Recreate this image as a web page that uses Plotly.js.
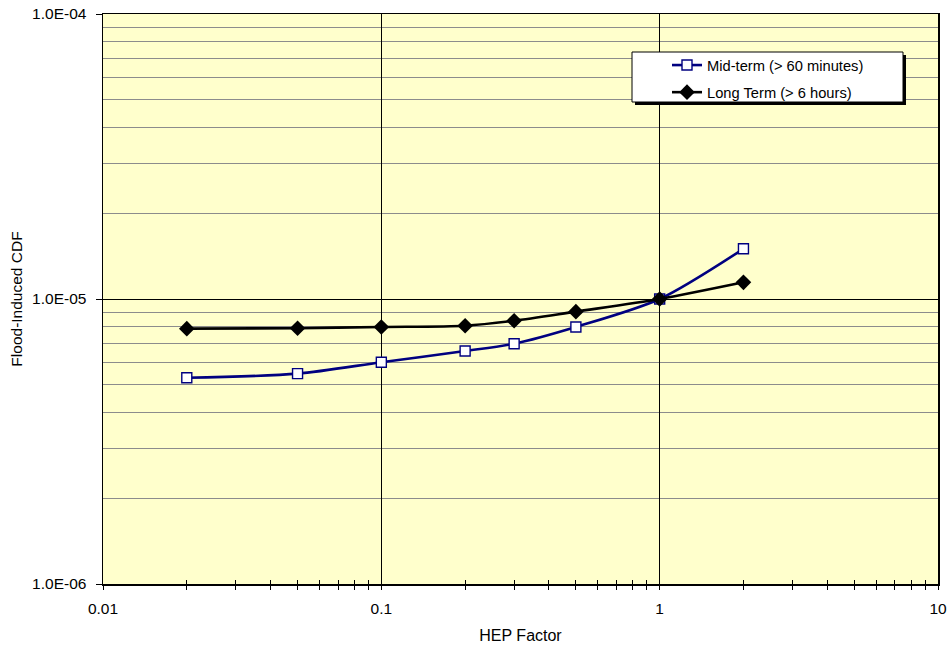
<!DOCTYPE html>
<html>
<head>
<meta charset="utf-8">
<script src="https://cdn.plot.ly/plotly-3.0.1.min.js"></script>
<style>html,body{margin:0;padding:0;background:#fff}#chart{width:948px;height:645px}</style>
</head>
<body>
<div id="chart"></div>
<script>
const hepFactor = [0.02, 0.05, 0.1, 0.2, 0.3, 0.5, 1, 2];
const midTermCDF = [5.29e-6, 5.47e-6, 6.0e-6, 6.57e-6, 6.97e-6, 7.98e-6, 1.0e-5, 1.5e-5];
const longTermCDF = [7.87e-6, 7.9e-6, 7.98e-6, 8.06e-6, 8.39e-6, 9.03e-6, 1.0e-5, 1.144e-5];
const seriesNames = ['Mid-term (> 60 minutes)', 'Long Term (> 6 hours)'];
const yTickVals = [1e-6, 1e-5, 1e-4];
const yTickText = ['1.0E-06', '1.0E-05', '1.0E-04'];
const xTickVals = [0.01, 0.1, 1, 10];
const xTickText = ['0.01', '0.1', '1', '10'];

const yMinor = [];
const xMinor = [];
[1e-6, 1e-5].forEach(d => { for (let k = 2; k <= 9; k++) yMinor.push(k * d); });
[0.01, 0.1, 1].forEach(d => { for (let k = 2; k <= 9; k++) xMinor.push(k * d); });

const FONT = 'Arial, "Liberation Sans", sans-serif';

const traces = [
  {
    x: hepFactor, y: midTermCDF, name: seriesNames[0], type: 'scatter', mode: 'lines+markers',
    legendgroup: 'a',
    line: {color: '#000080', width: 2.6, shape: 'spline', smoothing: 0.8},
    marker: {symbol: 'square', size: 10, color: '#ffffff', line: {color: '#000080', width: 1.4}}
  },
  {
    x: hepFactor, y: longTermCDF, name: seriesNames[1], type: 'scatter', mode: 'lines+markers',
    legendgroup: 'b',
    line: {color: '#000000', width: 2.6, shape: 'spline', smoothing: 0.8},
    marker: {symbol: 'diamond', size: 12, color: '#000000', line: {width: 0}}
  }
];

const L = 103, T = 14, W = 835, H = 570;
function px(x) { return (x - L) / W; }
function py(y) { return (T + H - y) / H; }

const layout = {
  width: 948, height: 645,
  margin: {l: L, r: 948 - L - W, t: T, b: 645 - T - H, pad: 0},
  paper_bgcolor: '#ffffff',
  plot_bgcolor: '#ffffcc',
  font: {family: FONT, size: 15, color: '#000000'},
  showlegend: true,
  legend: {
    x: px(667), y: py(49), xanchor: 'left', yanchor: 'top',
    bgcolor: 'rgba(0,0,0,0)', borderwidth: 0,
    font: {family: FONT, size: 14.7, color: '#000'},
    tracegroupgap: 5
  },
  xaxis: {
    type: 'log', range: [-2, 1],
    tickvals: xTickVals, ticktext: xTickText,
    showgrid: true, gridcolor: '#000000', gridwidth: 1,
    showline: true, linecolor: '#000000', linewidth: 1.5, mirror: true,
    ticks: 'outside', ticklen: 4, tickcolor: '#000', tickwidth: 1,
    minor: {tickvals: xMinor, ticks: 'outside', ticklen: 4, tickcolor: '#000', showgrid: false},
    zeroline: false,
    tickfont: {family: FONT, size: 15.5},
    ticklabelstandoff: 6,
    title: {text: 'HEP Factor', font: {family: FONT, size: 16}, standoff: 13}
  },
  xaxis2: {
    type: 'log', range: [-2, 1], overlaying: 'x', matches: 'x', side: 'bottom', anchor: 'y',
    tickvals: xTickVals, showticklabels: false, showgrid: false, showline: false,
    ticks: 'inside', ticklen: 4, tickcolor: '#000', tickwidth: 1,
    minor: {tickvals: xMinor, ticks: 'inside', ticklen: 4, tickcolor: '#000', showgrid: false},
    zeroline: false
  },
  yaxis: {
    type: 'log', range: [-6, -4],
    tickvals: yTickVals, ticktext: yTickText,
    showgrid: true, gridcolor: '#000000', gridwidth: 1,
    showline: true, linecolor: '#000000', linewidth: 1.5, mirror: true,
    ticks: 'outside', ticklen: 6, tickcolor: '#000', tickwidth: 1,
    minor: {tickvals: yMinor, ticks: '', showgrid: true, gridcolor: '#8c8c8c', gridwidth: 1},
    zeroline: false,
    tickfont: {family: FONT, size: 15.5},
    ticklabelstandoff: 6,
    title: {text: 'Flood-Induced CDF', font: {family: FONT, size: 15.5}, standoff: 5}
  },
  shapes: [
    {type: 'rect', xref: 'paper', yref: 'paper', layer: 'above',
     x0: px(635), x1: px(906), y0: py(105), y1: py(55),
     fillcolor: '#000000', line: {width: 0}},
    {type: 'rect', xref: 'paper', yref: 'paper', layer: 'above',
     x0: px(632), x1: px(903), y0: py(102), y1: py(52),
     fillcolor: '#ffffff', line: {color: '#000000', width: 1}}
  ]
};

traces.push({x: [hepFactor[0]], y: [midTermCDF[0]], xaxis: 'x2', yaxis: 'y', type: 'scatter', mode: 'markers',
  marker: {opacity: 0}, showlegend: false, hoverinfo: 'skip'});

Plotly.newPlot('chart', traces, layout, {staticPlot: true, displayModeBar: false});
</script>
</body>
</html>
